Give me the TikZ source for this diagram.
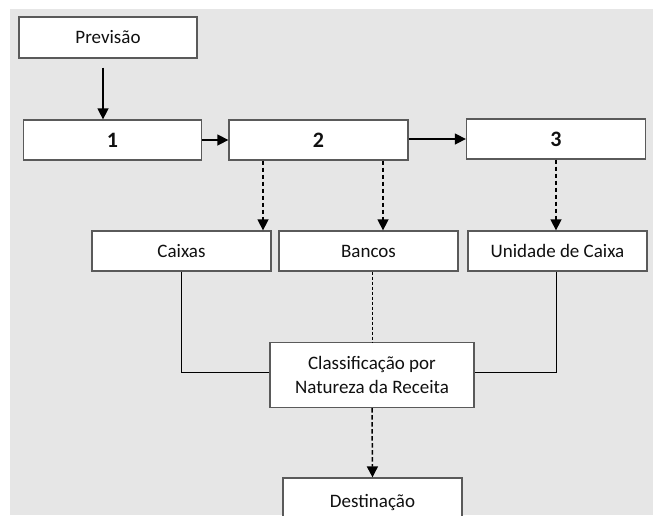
\documentclass[tikz,border=0pt]{standalone}
\usepackage{fontspec}
\setmainfont{Carlito}
\usetikzlibrary{arrows.meta}
\definecolor{bggray}{HTML}{E6E6E6}
\definecolor{boxline}{HTML}{5A5A5A}
\definecolor{txt}{HTML}{101010}
\tikzset{
  box/.style={draw=boxline, line width=1.3pt, fill=white, minimum width=178pt, minimum height=40pt,
    inner sep=0pt, font=\fontsize{19}{24}\selectfont, text=txt, align=center},
  numbox/.style={box, font=\fontsize{22}{24}\selectfont\bfseries},
  arr/.style={-{Triangle[length=11pt,width=11pt]}, line width=1.5pt, black},
  darr/.style={arr, dash pattern=on 4.5pt off 2.5pt},
  link/.style={line width=1pt, black},
  dotlink/.style={line width=1pt, black, dash pattern=on 3pt off 2pt}
}
\begin{document}
\begin{tikzpicture}[x=1pt,y=-1pt]
\clip (0,0) rectangle (653,515);
\fill[bggray] (10,9) rectangle (653,515);
\node[box, minimum height=41pt] (prev) at (108,37.5) {Previsão};
\node[numbox] (b1) at (112.5,140) {1};
\node[numbox, minimum width=179pt] (b2) at (318.5,140) {2};
\node[numbox, minimum width=179pt] (b3) at (556,139) {3};
\node[box, minimum width=179pt] (cx) at (181.5,251) {Caixas};
\node[box, minimum width=179pt] (bn) at (368.5,251) {Bancos};
\node[box, minimum width=179pt] (un) at (557.5,251) {Unidade de Caixa};
\node[box, minimum width=204pt, minimum height=65pt] (cl) at (372,375) {Classificação por\\Natureza da Receita};
\node[box, minimum width=179pt, minimum height=50pt] (de) at (372.5,503) {Destinação};
% connectors
\draw[arr, shorten <=9pt] ([xshift=-5pt]prev.south) -- ([xshift=-5pt]prev.south |- b1.north);
\draw[arr] (b1.east) -- (b2.west);
\draw[arr] (b2.east |- b3.west) -- (b3.west);
\draw[darr] ([xshift=-55.5pt]b2.south) -- ([xshift=-55.5pt]b2.south |- cx.north);
\draw[darr] ([xshift=64.5pt]b2.south) -- ([xshift=64.5pt]b2.south |- bn.north);
\draw[darr] (b3.south) -- (b3.south |- un.north);
\draw[link] (cx.south) |- ([yshift=3pt]cl.west);
\draw[link] ([xshift=-1.5pt]un.south) |- ([yshift=3pt]cl.east);
\draw[dotlink] (cl.north |- bn.south) -- (cl.north);
\draw[darr] (cl.south) -- (de.north);
\end{tikzpicture}
\end{document}
